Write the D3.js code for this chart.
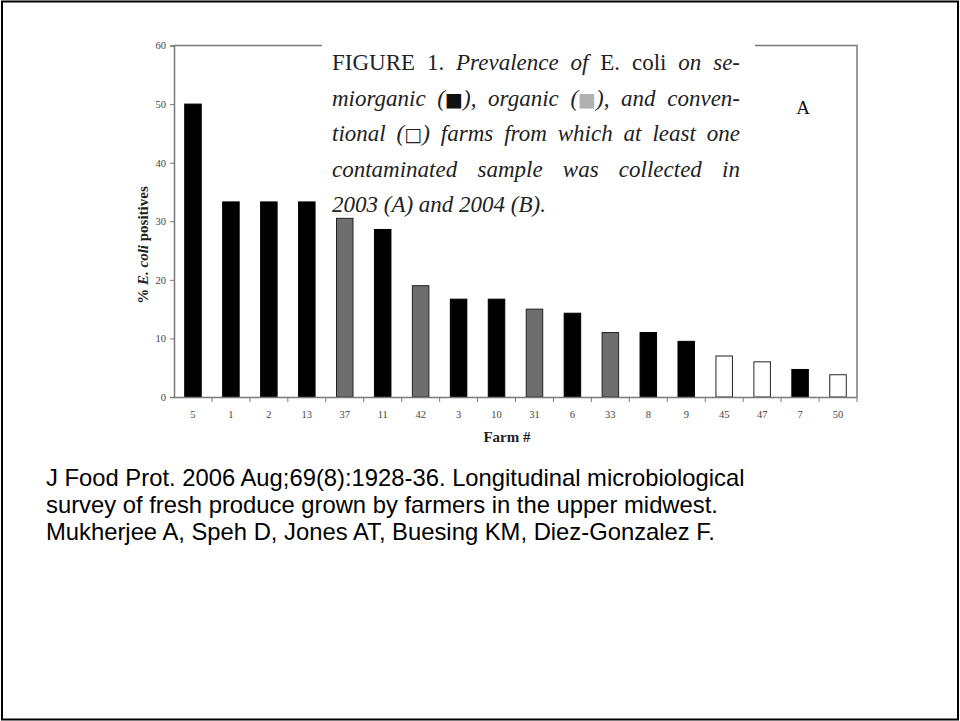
<!DOCTYPE html>
<html>
<head>
<meta charset="utf-8">
<script src="https://cdn.jsdelivr.net/npm/d3@7"></script>
<style>
  html, body { margin: 0; padding: 0; background: #fff; }
</style>
</head>
<body>
<div id="chart-container"></div>
<script>
// --- Data ---
const farms = ["5", "1", "2", "13", "37", "11", "42", "3", "10", "31", "6", "33", "8", "9", "45", "47", "7", "50"];
const positives = [50, 33.3, 33.3, 33.3, 30.5, 28.6, 19, 16.7, 16.7, 15, 14.3, 11, 11, 9.5, 7, 6, 4.7, 3.8];
const farmTypes = ["semi", "semi", "semi", "semi", "org", "semi", "org", "semi", "semi", "org", "semi", "org", "semi", "semi", "conv", "conv", "semi", "conv"];
const yTicks = [0, 10, 20, 30, 40, 50, 60];
const citation = [
  "J Food Prot. 2006 Aug;69(8):1928-36. Longitudinal microbiological",
  "survey of fresh produce grown by farmers in the upper midwest.",
  "Mukherjee A, Speh D, Jones AT, Buesing KM, Diez-Gonzalez F.",
];

const width = 960;
const height = 721;
const serif = "'Liberation Serif', 'DejaVu Serif', serif";

const fills = { semi: "#000", org: "#6e6e6e", conv: "#fff" };

const svg = d3
  .select("#chart-container")
  .append("svg")
  .attr("width", width)
  .attr("height", height);

// slide frame
svg
  .append("rect")
  .attr("x", 2)
  .attr("y", 1.5)
  .attr("width", width - 4)
  .attr("height", height - 3)
  .attr("fill", "none")
  .attr("stroke", "#000")
  .attr("stroke-width", 2);

// --- Scales ---
const x = d3
  .scaleBand()
  .domain(farms)
  .range([174, 857])
  .paddingInner(0.565)
  .paddingOuter(0.2825);

const y = d3.scaleLinear().domain([0, 60]).range([397, 45.5]);

const data = farms.map((f, i) => ({ farm: f, value: positives[i], type: farmTypes[i] }));

// plot frame (top + right)
svg
  .append("path")
  .attr("d", `M174,${y(60)}H857V${y(0)}`)
  .attr("fill", "none")
  .attr("stroke", "#7a7a7a")
  .attr("stroke-width", 1.5);

// --- Bars ---
svg
  .selectAll("rect.bar")
  .data(data)
  .enter()
  .append("rect")
  .attr("class", "bar")
  .attr("x", (d) => x(d.farm))
  .attr("y", (d) => y(d.value))
  .attr("width", x.bandwidth())
  .attr("height", (d) => y(0) - y(d.value))
  .attr("fill", (d) => fills[d.type])
  .attr("stroke", (d) => (d.type === "semi" ? "#000" : "#222"))
  .attr("stroke-width", 1);

// --- Axes ---
const yAxis = svg
  .append("g")
  .attr("transform", "translate(174,0)")
  .call(d3.axisLeft(y).tickValues(yTicks).tickSize(4).tickPadding(4));

const xAxis = svg
  .append("g")
  .attr("transform", `translate(0,${y(0)})`)
  .call(d3.axisBottom(x).tickSize(0).tickPadding(14));

[yAxis, xAxis].forEach((g) => {
  g.select(".domain").attr("stroke", "#7a7a7a").attr("stroke-width", 1.5);
  g.selectAll(".tick line").attr("stroke", "#7a7a7a");
  g.selectAll(".tick text")
    .attr("fill", "#444")
    .style("font-family", serif)
    .style("font-size", "10.5px");
});

// category boundary ticks under the x axis
xAxis
  .selectAll("line.sep")
  .data(farms)
  .enter()
  .append("line")
  .attr("class", "sep")
  .attr("x1", (d) => x(d) + x.bandwidth() + (x.step() * x.paddingInner()) / 2)
  .attr("x2", (d) => x(d) + x.bandwidth() + (x.step() * x.paddingInner()) / 2)
  .attr("y1", 0)
  .attr("y2", 5)
  .attr("stroke", "#7a7a7a");

// --- Axis titles ---
const yTitle = svg
  .append("text")
  .attr("transform", "translate(148,245) rotate(-90)")
  .attr("text-anchor", "middle")
  .style("font-family", serif)
  .style("font-size", "15px")
  .style("font-weight", "bold")
  .attr("fill", "#222");
yTitle.append("tspan").text("% ");
yTitle.append("tspan").style("font-style", "italic").text("E. coli");
yTitle.append("tspan").text(" positives");

svg
  .append("text")
  .attr("x", 507)
  .attr("y", 442)
  .attr("text-anchor", "middle")
  .style("font-family", serif)
  .style("font-size", "15px")
  .style("font-weight", "bold")
  .attr("fill", "#222")
  .text("Farm #");

// --- Caption box (covers part of the top frame line) ---
svg
  .append("rect")
  .attr("x", 322)
  .attr("y", 38)
  .attr("width", 433)
  .attr("height", 176)
  .attr("fill", "#fff");

const captionLines = [
  [["FIGURE 1. ", "normal"], ["Prevalence of ", "italic"], ["E. coli", "normal"], [" on se-", "italic"]],
  [["miorganic (", "italic"], ["■", "semi"], ["), organic (", "italic"], ["■", "org"], ["), and conven-", "italic"]],
  [["tional (", "italic"], ["□", "conv"], [") farms from which at least one", "italic"]],
  [["contaminated sample was collected in", "italic"]],
  [["2003 (A) and 2004 (B).", "italic"]],
];
const captionFill = { semi: "#111", org: "#b0b0b0", conv: "#222" };
const captionWidth = 408;

captionLines.forEach((parts, i) => {
  const t = svg
    .append("text")
    .attr("x", 332)
    .attr("y", 70 + i * 35.5)
    .style("font-family", serif)
    .style("font-size", "23px")
    .attr("fill", "#222");
  parts.forEach(([txt, kind]) => {
    const s = t.append("tspan").text(txt);
    if (kind === "italic") s.style("font-style", "italic");
    if (captionFill[kind]) {
      s.attr("fill", captionFill[kind]).style("font-family", "'DejaVu Sans', sans-serif").style("font-size", "19px");
    }
  });
  // justify all but the last line by widening the word gaps
  if (i < captionLines.length - 1) {
    const natural = t.node().getComputedTextLength();
    const gaps = parts.map((p) => p[0]).join("").split(" ").length - 1;
    t.style("word-spacing", `${(captionWidth - natural) / gaps}px`);
  }
});

svg
  .append("text")
  .attr("x", 803)
  .attr("y", 114)
  .attr("text-anchor", "middle")
  .style("font-family", serif)
  .style("font-size", "19px")
  .attr("fill", "#111")
  .text("A");

// --- Citation ---
svg
  .selectAll("text.cite")
  .data(citation)
  .enter()
  .append("text")
  .attr("class", "cite")
  .attr("x", 46)
  .attr("y", (d, i) => 486 + i * 27)
  .style("font-family", "'Liberation Sans', Arial, sans-serif")
  .style("font-size", "23.8px")
  .attr("fill", "#000")
  .text((d) => d);
</script>
</body>
</html>
